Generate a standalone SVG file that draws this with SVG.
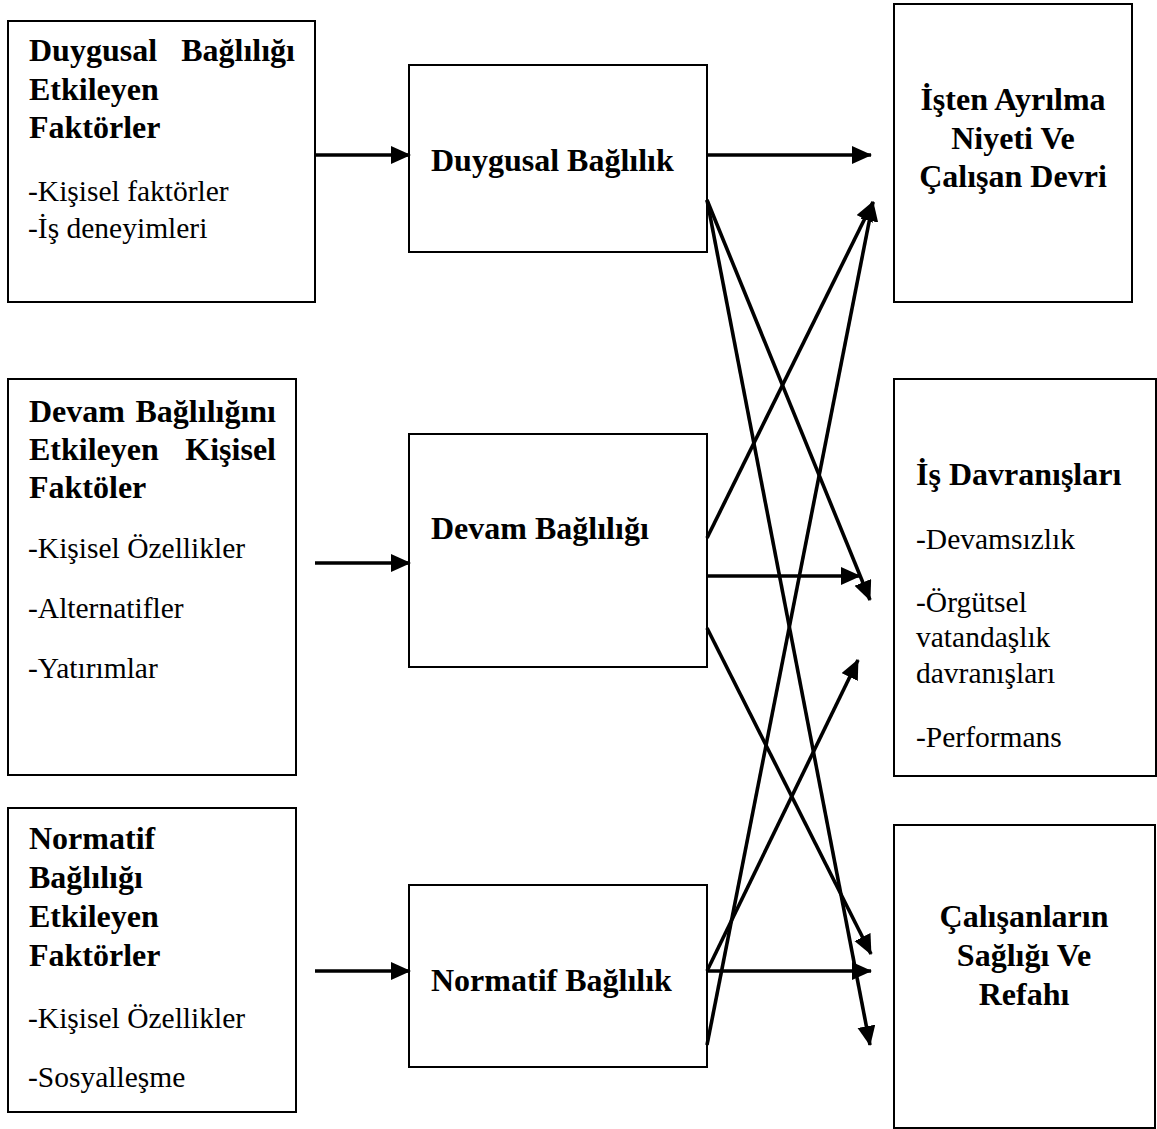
<svg xmlns="http://www.w3.org/2000/svg" width="1157" height="1129" viewBox="0 0 1157 1129">
<style>
.box{fill:#fff;stroke:#000;stroke-width:2}
.b{font-family:"Liberation Serif","Times New Roman",serif;font-weight:bold;font-size:32px;fill:#000}
.r{font-family:"Liberation Serif","Times New Roman",serif;font-size:29.5px;fill:#000}
.c{text-anchor:middle}
.e{text-anchor:end}
.con line{stroke:#000;stroke-width:3.6;marker-end:url(#ah)}
</style>
<defs>
<marker id="ah" markerUnits="userSpaceOnUse" markerWidth="22" markerHeight="20" refX="19" refY="9" orient="auto">
<path d="M0,0 L20,9 L0,18 z" fill="#000"/>
</marker>
</defs>
<rect width="1157" height="1129" fill="#fff"/>

<g id="n-duygusal-faktorler">
<rect class="box" x="8" y="21" width="307" height="281"/>
<text class="b" x="29" y="61">Duygusal</text>
<text class="b e" x="295" y="61">Bağlılığı</text>
<text class="b" x="29" y="100">Etkileyen</text>
<text class="b" x="29" y="138">Faktörler</text>
<text class="r" x="28" y="201">-Kişisel faktörler</text>
<text class="r" x="28" y="238">-İş deneyimleri</text>
</g>

<g id="n-devam-faktorler">
<rect class="box" x="8" y="379" width="288" height="396"/>
<text class="b" x="29" y="422">Devam</text>
<text class="b e" x="276" y="422">Bağlılığını</text>
<text class="b" x="29" y="460">Etkileyen</text>
<text class="b e" x="276" y="460">Kişisel</text>
<text class="b" x="29" y="498">Faktöler</text>
<text class="r" x="28" y="558">-Kişisel Özellikler</text>
<text class="r" x="28" y="618">-Alternatifler</text>
<text class="r" x="28" y="678">-Yatırımlar</text>
</g>

<g id="n-normatif-faktorler">
<rect class="box" x="8" y="808" width="288" height="304"/>
<text class="b" x="29" y="849">Normatif</text>
<text class="b" x="29" y="888">Bağlılığı</text>
<text class="b" x="29" y="927">Etkileyen</text>
<text class="b" x="29" y="966">Faktörler</text>
<text class="r" x="28" y="1028">-Kişisel Özellikler</text>
<text class="r" x="28" y="1087">-Sosyalleşme</text>
</g>

<g id="n-duygusal">
<rect class="box" x="409" y="65" width="298" height="187"/>
<text class="b" x="431" y="171">Duygusal Bağlılık</text>
</g>

<g id="n-devam">
<rect class="box" x="409" y="434" width="298" height="233"/>
<text class="b" x="431" y="539">Devam Bağlılığı</text>
</g>

<g id="n-normatif">
<rect class="box" x="409" y="885" width="298" height="182"/>
<text class="b" x="431" y="991">Normatif Bağlılık</text>
</g>

<g id="n-isten-ayrilma">
<rect class="box" x="894" y="4" width="238" height="298"/>
<text class="b c" x="1013" y="110">İşten Ayrılma</text>
<text class="b c" x="1013" y="149">Niyeti Ve</text>
<text class="b c" x="1013" y="187">Çalışan Devri</text>
</g>

<g id="n-is-davranislari">
<rect class="box" x="894" y="379" width="262" height="397"/>
<text class="b" x="916" y="485">İş Davranışları</text>
<text class="r" x="916" y="549">-Devamsızlık</text>
<text class="r" x="916" y="612">-Örgütsel</text>
<text class="r" x="916" y="647">vatandaşlık</text>
<text class="r" x="916" y="683">davranışları</text>
<text class="r" x="916" y="747">-Performans</text>
</g>

<g id="n-saglik">
<rect class="box" x="894" y="825" width="261" height="303"/>
<text class="b c" x="1024" y="927">Çalışanların</text>
<text class="b c" x="1024" y="966">Sağlığı Ve</text>
<text class="b c" x="1024" y="1005">Refahı</text>
</g>

<g id="connectors" class="con">
<line x1="315" y1="155" x2="410" y2="155"/>
<line x1="315" y1="563" x2="410" y2="563"/>
<line x1="315" y1="971" x2="410" y2="971"/>
<line x1="707" y1="155" x2="871" y2="155"/>
<line x1="707" y1="200" x2="870" y2="600"/>
<line x1="707" y1="200" x2="870" y2="1045"/>
<line x1="707" y1="538" x2="873" y2="202"/>
<line x1="707" y1="576" x2="860" y2="576"/>
<line x1="707" y1="628" x2="871" y2="954"/>
<line x1="707" y1="971" x2="871" y2="971"/>
<line x1="707" y1="971" x2="858" y2="660"/>
<line x1="707" y1="1045" x2="873" y2="202"/>
</g>
</svg>
